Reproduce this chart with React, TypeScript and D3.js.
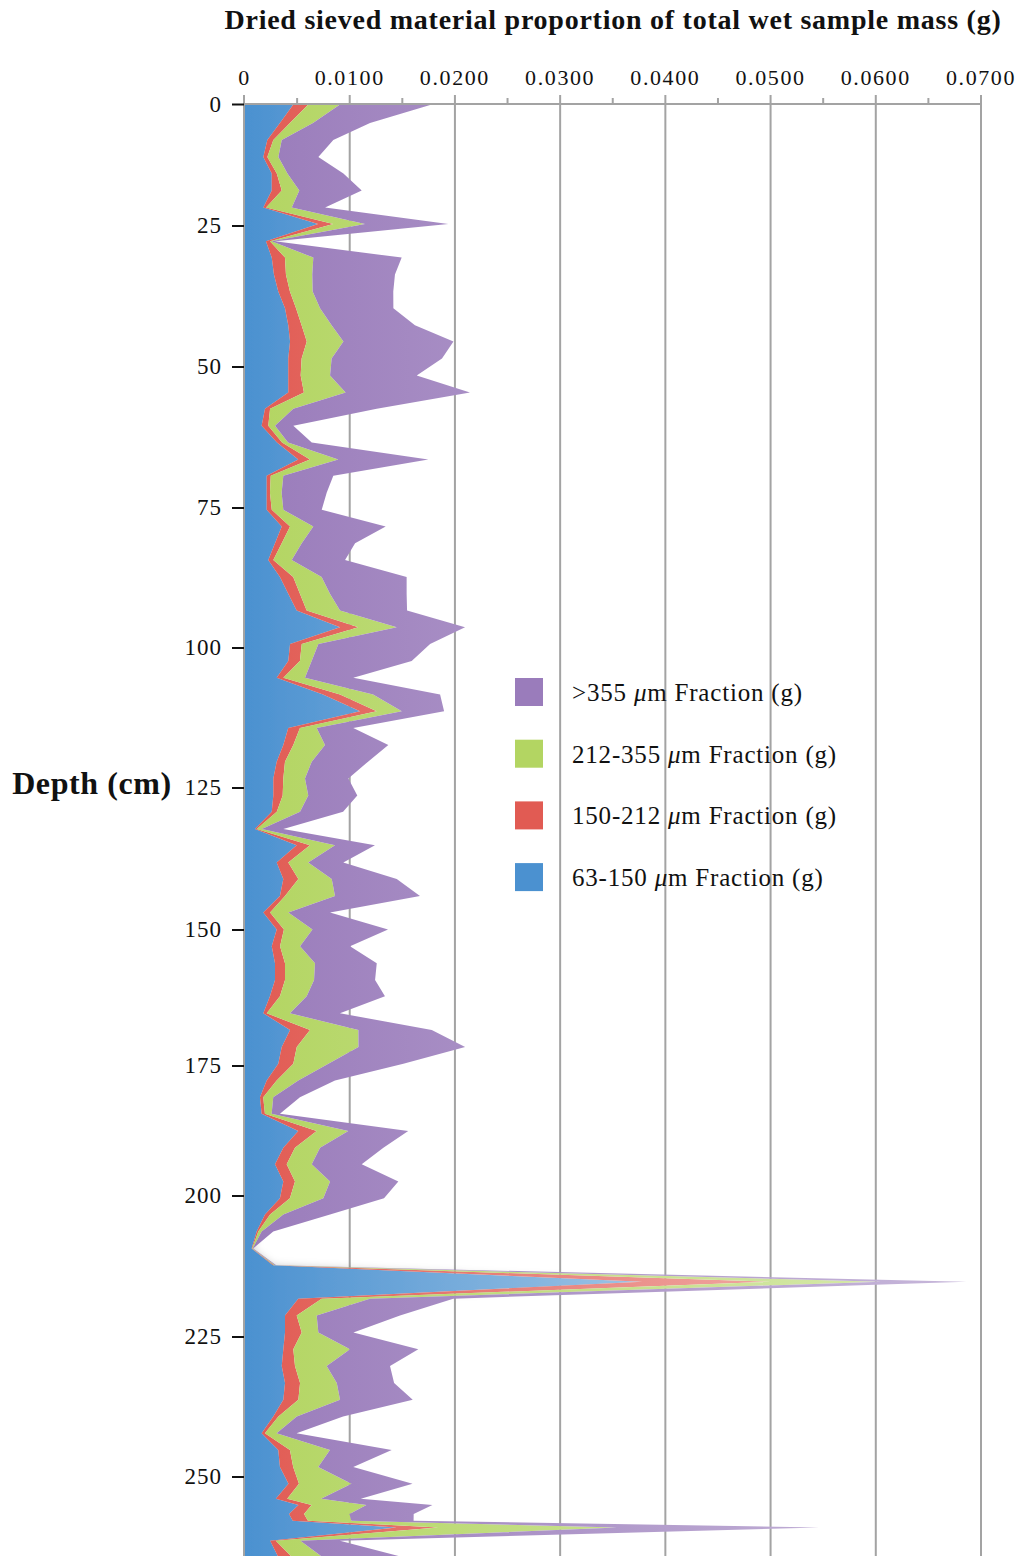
import React from "react";
import * as d3 from "d3";

// ---- data ----
const depths = [0, 3.8, 7.3, 10.8, 14.2, 17.7, 21.2, 24.6, 27.7, 30.6, 33.6, 36.6, 39.6, 42.6, 45.5, 48.5, 51.5, 54.5, 57.4, 60.4, 63.4, 66.4, 69.3, 72.3, 75.3, 78.3, 81.3, 84.3, 87.3, 90.3, 93.3, 96.3, 99.3, 102.3, 105.3, 108.3, 111.3, 114.3, 117.3, 120.3, 123.3, 126.3, 129.2, 132.2, 135.1, 138.1, 141.0, 144.0, 146.9, 149.9, 153.0, 156.1, 159.2, 162.2, 165.3, 168.4, 171.5, 174.6, 177.8, 181.0, 184.2, 187.5, 190.7, 193.9, 197.2, 200.4, 203.3, 206.3, 209.3, 212.3, 215.2, 218.2, 221.2, 224.2, 227.2, 230.2, 233.2, 236.2, 239.2, 242.2, 245.2, 248.2, 251.2, 253.9, 255.0, 256.6, 257.8, 259.0, 261.4, 264.1];

const f63 = [0.00464, 0.00337, 0.00217, 0.00179, 0.00259, 0.00259, 0.00179, 0.00699, 0.00204, 0.00259, 0.0028, 0.00321, 0.00385, 0.00416, 0.00433, 0.00416, 0.00416, 0.00416, 0.00195, 0.00163, 0.00309, 0.00511, 0.00211, 0.00211, 0.00211, 0.00354, 0.0029, 0.00226, 0.00337, 0.00416, 0.00496, 0.00908, 0.00433, 0.00416, 0.00306, 0.00746, 0.01098, 0.00416, 0.00369, 0.00306, 0.00274, 0.00274, 0.00259, 0.001, 0.00496, 0.00306, 0.00369, 0.00337, 0.00179, 0.00306, 0.00259, 0.0029, 0.0029, 0.00242, 0.00179, 0.00433, 0.00354, 0.00321, 0.00211, 0.00147, 0.00163, 0.00511, 0.00369, 0.0029, 0.00369, 0.00337, 0.00195, 0.00116, 0.00068, 0.00271, 0.0378, 0.00511, 0.00385, 0.00385, 0.00369, 0.00354, 0.00385, 0.00369, 0.00274, 0.00163, 0.00321, 0.00337, 0.00418, 0.00298, 0.00513, 0.00423, 0.00459, 0.01446, 0.00244, 0.00316];

const f150 = [0.00143, 0.00095, 0.00057, 0.00038, 0.00048, 0.00095, 0.00026, 0.00145, 0.00038, 0.00126, 0.00114, 0.00111, 0.00105, 0.00127, 0.00159, 0.00127, 0.00118, 0.00149, 0.00048, 0.00063, 0.00048, 0.00111, 0.00038, 0.00031, 0.00048, 0.00079, 0.00064, 0.00048, 0.00126, 0.00111, 0.00095, 0.00174, 0.00111, 0.00111, 0.00063, 0.00162, 0.00159, 0.00111, 0.00095, 0.00079, 0.00095, 0.00089, 0.00048, 0.00016, 0.00126, 0.0011, 0.00143, 0.00048, 0.00064, 0.00069, 0.00079, 0.00095, 0.00095, 0.00095, 0.00032, 0.0019, 0.00143, 0.00143, 0.00095, 0.00031, 0.00031, 0.00175, 0.00111, 0.00111, 0.00111, 0.00095, 0.00048, 0.00015, 0.00005, 0.0001, 0.0123, 0.00222, 0.00111, 0.00159, 0.00095, 0.00126, 0.00143, 0.00143, 0.00048, 0.00031, 0.00111, 0.00126, 0.001, 0.00108, 0.00125, 0.00143, 0.00144, 0.00394, 0.00053, 0.00126];

const f212 = [0.00301, 0.00219, 0.0008, 0.00105, 0.00101, 0.00167, 0.00244, 0.00301, 0.00016, 0.00269, 0.0025, 0.00216, 0.00228, 0.00285, 0.00348, 0.00285, 0.00279, 0.00396, 0.00221, 0.00064, 0.00057, 0.00269, 0.0012, 0.00111, 0.0011, 0.00221, 0.0019, 0.00175, 0.0027, 0.00285, 0.00317, 0.00365, 0.00158, 0.00111, 0.00206, 0.00314, 0.00238, 0.00159, 0.00301, 0.00254, 0.00206, 0.00243, 0.00221, 0.00048, 0.00238, 0.0019, 0.00317, 0.00475, 0.00174, 0.00271, 0.0019, 0.00285, 0.00276, 0.00254, 0.00221, 0.00459, 0.00586, 0.00333, 0.00205, 0.00095, 0.00064, 0.003, 0.00238, 0.00238, 0.00333, 0.00317, 0.00126, 0.00032, 0.00005, 0.0001, 0.0104, 0.00459, 0.0019, 0.00158, 0.00539, 0.00301, 0.00349, 0.00396, 0.00175, 0.00111, 0.0038, 0.00238, 0.00499, 0.00322, 0.0052, 0.00432, 0.00412, 0.017, 0.00234, 0.00285];

const f355 = [0.00872, 0.00542, 0.0049, 0.0038, 0.00532, 0.00593, 0.00317, 0.00792, 0.00031, 0.0084, 0.00786, 0.00766, 0.00697, 0.00792, 0.01046, 0.01049, 0.00824, 0.01182, 0.00793, 0.00174, 0.00225, 0.00856, 0.00475, 0.00428, 0.00365, 0.00688, 0.00507, 0.00507, 0.00808, 0.00729, 0.00637, 0.00649, 0.01062, 0.00951, 0.00459, 0.00637, 0.00402, 0.00348, 0.00602, 0.00535, 0.00412, 0.00466, 0.00409, 0.00205, 0.0038, 0.00333, 0.00618, 0.00808, 0.00396, 0.00718, 0.00475, 0.00587, 0.0058, 0.00744, 0.00475, 0.00698, 0.01014, 0.00713, 0.00349, 0.00254, 0.00079, 0.0057, 0.00602, 0.00475, 0.00649, 0.00577, 0.00444, 0.0011, 0.00005, 0.0001, 0.0081, 0.00792, 0.00792, 0.00333, 0.00649, 0.00602, 0.00545, 0.00691, 0.0044, 0.0019, 0.00587, 0.00333, 0.0058, 0.00377, 0.00628, 0.0061, 0.00592, 0.0192, 0.00376, 0.00737];

const seriesKeys = ["f63", "f150", "f212", "f355"];
const seriesNames = ["63-150", "150-212", "212-355", ">355"];
const xTicks = [0, 0.01, 0.02, 0.03, 0.04, 0.05, 0.06, 0.07];
const xTickLabels = ["0", "0.0100", "0.0200", "0.0300", "0.0400", "0.0500", "0.0600", "0.0700"];
const yTicks = [0, 25, 50, 75, 100, 125, 150, 175, 200, 225, 250];

const colors: Record<string, string> = {
  f63: "#4b91d0",
  f150: "#e15b53",
  f212: "#b3d562",
  f355: "#9a7cbb",
};

export default function App() {
  const W = 1021;
  const H = 1556;
  const serif = "'Liberation Serif', 'Times New Roman', serif";

  const x = d3.scaleLinear().domain([0, 0.07]).range([244.5, 981]);
  // depth axis: uneven spacing as in the reference
  const y = d3
    .scaleLinear()
    .domain(yTicks)
    .range([104.5, 226, 367, 508, 648, 788, 930, 1066, 1196, 1337, 1477]);

  const rows = depths.map((d, i) => ({
    depth: d,
    f63: f63[i],
    f150: f150[i],
    f212: f212[i],
    f355: f355[i],
  }));
  const stacked = d3.stack<any>().keys(seriesKeys)(rows);
  const area = d3
    .area<any>()
    .y((d) => y(d.data.depth))
    .x0((d) => x(d[0]))
    .x1((d) => x(d[1]));

  const minor = xTicks.slice(1).map((t) => t - 0.005);
  const legendOrder = [3, 2, 1, 0];
  const light = (c: string) => d3.interpolateRgb(c, "#ffffff")(0.45);

  return (
    <div style={{ position: "fixed", left: 0, top: 0 }}>
      <svg width={W} height={H} style={{ display: "block", background: "#fff" }}>
        <defs>
          {seriesKeys.map((k) => (
            <linearGradient key={k} id={`g-${k}`} x1="0" x2="1" y1="0" y2="0">
              <stop offset="0" stopColor={colors[k]} />
              <stop offset="1" stopColor={light(colors[k])} />
            </linearGradient>
          ))}
          <filter id="shadow" x="-10%" y="-10%" width="130%" height="120%">
            <feDropShadow dx="0" dy="1" stdDeviation="4" floodColor="#000" floodOpacity="0.25" />
          </filter>
          <clipPath id="plot">
            <rect x={x(0)} y={y(0) - 0.5} width={W - x(0)} height={H} />
          </clipPath>
        </defs>

        {/* grid lines */}
        {xTicks.slice(1).map((t) => (
          <line key={t} x1={x(t)} x2={x(t)} y1={95} y2={H} stroke="#a3a3a3" strokeWidth={2} />
        ))}
        {minor.map((t) => (
          <line key={t} x1={x(t)} x2={x(t)} y1={98} y2={105} stroke="#a3a3a3" strokeWidth={2} />
        ))}

        {/* stacked areas */}
        <g clipPath="url(#plot)">
          {stacked.map((s) => (
            <path
              key={s.key}
              d={area(s) || ""}
              fill={`url(#g-${s.key})`}
              filter={s.key === "f63" ? "url(#shadow)" : undefined}
            />
          ))}
        </g>

        {/* axes */}
        <line x1={x(0)} x2={x(0.07)} y1={104} y2={104} stroke="#a3a3a3" strokeWidth={2} />
        <line x1={x(0) - 0.5} x2={x(0) - 0.5} y1={95} y2={H} stroke="#a3a3a3" strokeWidth={2} />
        {yTicks.map((t) => (
          <line key={t} x1={232} x2={244} y1={y(t)} y2={y(t)} stroke="#111" strokeWidth={2} />
        ))}

        {/* x tick labels */}
        {xTicks.map((t, i) => (
          <text
            key={t}
            x={x(t)}
            y={85}
            textAnchor="middle"
            fontFamily={serif}
            fontSize={22}
            letterSpacing={1.6}
            fill="#111"
          >
            {xTickLabels[i]}
          </text>
        ))}

        {/* y tick labels */}
        {yTicks.map((t) => (
          <text
            key={t}
            x={222}
            y={y(t) + 7}
            textAnchor="end"
            fontFamily={serif}
            fontSize={23}
            letterSpacing={1}
            fill="#111"
          >
            {t}
          </text>
        ))}

        {/* titles */}
        <text
          x={613}
          y={29}
          textAnchor="middle"
          fontFamily={serif}
          fontWeight="bold"
          fontSize={28}
          letterSpacing={0.75}
          fill="#111"
        >
          Dried sieved material proportion of total wet sample mass (g)
        </text>
        <text
          x={92}
          y={794}
          textAnchor="middle"
          fontFamily={serif}
          fontWeight="bold"
          fontSize={32}
          letterSpacing={0.6}
          fill="#111"
        >
          Depth (cm)
        </text>

        {/* legend */}
        {legendOrder.map((si, j) => {
          const ly = 678 + j * 61.7;
          return (
            <g key={si}>
              <rect x={515} y={ly} width={28} height={28} fill={colors[seriesKeys[si]]} />
              <text
                x={572}
                y={ly + 23}
                fontFamily={serif}
                fontSize={25}
                letterSpacing={0.8}
                fill="#111"
              >
                {seriesNames[si]} <tspan fontStyle="italic">μ</tspan>m Fraction (g)
              </text>
            </g>
          );
        })}
      </svg>
    </div>
  );
}
